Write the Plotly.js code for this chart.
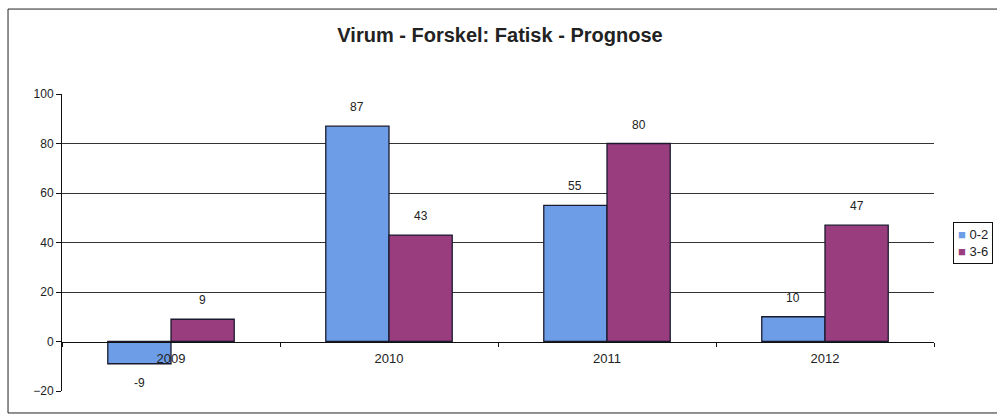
<!DOCTYPE html>
<html>
<head>
<meta charset="utf-8">
<script src="https://cdn.plot.ly/plotly-3.0.1.min.js"></script>
<style>
html,body{margin:0;padding:0;background:#fff;}
#chart{width:997px;height:417px;}
</style>
</head>
<body>
<div id="chart"></div>
<script>
const categories = ["2009", "2010", "2011", "2012"];
const seriesNames = ["0-2", "3-6"];
const values02 = [-9, 87, 55, 10];
const values36 = [9, 43, 80, 47];
const yTicks = [-20, 0, 20, 40, 60, 80, 100];
const gridTicks = [20, 40, 60, 80];

const colors = ["#6d9de6", "#993d7e"];
const lineCol = "#1a1a2e";
const fontFam = "Arial, Liberation Sans, sans-serif";

const traces = [
  {type: "bar", name: seriesNames[0], x: categories, y: values02,
   marker: {color: colors[0], line: {color: lineCol, width: 1.3}}, hoverinfo: "none"},
  {type: "bar", name: seriesNames[1], x: categories, y: values36,
   marker: {color: colors[1], line: {color: lineCol, width: 1.3}}, hoverinfo: "none"},
  {type: "scatter", x: categories, y: [0,0,0,0], yaxis: "y2", mode: "none", showlegend: false, hoverinfo: "none"}
];

const halfBar = 0.145;
const annotations = [];
[values02, values36].forEach((vals, s) => {
  vals.forEach((v, i) => {
    annotations.push({
      x: i + (s === 0 ? -halfBar : halfBar), y: v, xref: "x", yref: "y",
      text: String(v), showarrow: false,
      yanchor: v >= 0 ? "bottom" : "top",
      yshift: v >= 0 ? 10 : -10,
      font: {family: fontFam, size: 12, color: "#222"}
    });
  });
});

// custom compact legend built from the series names and colours
const legendText = seriesNames.map((n, i) =>
  "<span style='color:" + colors[i] + "'>■</span> " + n).join("<br>");
annotations.push({
  xref: "paper", yref: "paper", x: 1.0218, y: 0.5, xanchor: "left", yanchor: "middle",
  text: legendText, showarrow: false, align: "left",
  bordercolor: "#111", borderwidth: 1, borderpad: 4, bgcolor: "#fff",
  font: {family: fontFam, size: 13, color: "#222"}
});

const layout = {
  width: 997, height: 417,
  margin: {l: 62, r: 63, t: 94, b: 26, autoexpand: false},
  paper_bgcolor: "#fff", plot_bgcolor: "rgba(0,0,0,0)",
  title: {text: "<b>Virum - Forskel: Fatisk - Prognose</b>", x: 500/997, xref: "container", xanchor: "center",
          y: 1 - 35/417, yref: "container", yanchor: "middle",
          font: {family: fontFam, size: 20, color: "#222"}},
  barmode: "group", bargap: 0.42, bargroupgap: 0,
  xaxis: {type: "category", anchor: "free", position: 20/120, showline: true, linecolor: "#111", linewidth: 1,
          ticks: "outside", tickson: "boundaries", ticklen: 4, tickcolor: "#111", showgrid: false,
          ticklabelstandoff: 5, zeroline: false,
          tickfont: {family: fontFam, size: 13, color: "#222"}},
  yaxis: {range: [-20, 100], tickvals: yTicks, showline: true, linecolor: "#111", linewidth: 1,
          ticks: "outside", ticklen: 5, tickcolor: "#111", showgrid: false, zeroline: false,
          tickfont: {family: fontFam, size: 12, color: "#222"}},
  yaxis2: {range: [-20, 100], overlaying: "y", tickvals: gridTicks, showticklabels: false, ticks: "",
           showgrid: true, gridcolor: "#333", gridwidth: 1, zeroline: false, showline: false},
  annotations: annotations,
  shapes: [
    {type: "rect", xref: "paper", yref: "paper", x0: -0.0619, x1: 1.1, y0: -0.074, y1: 1.286,
     line: {color: "#222", width: 1}, layer: "below"}
  ],
  showlegend: false
};

Plotly.newPlot("chart", traces, layout, {displayModeBar: false, staticPlot: true});
</script>
</body>
</html>
